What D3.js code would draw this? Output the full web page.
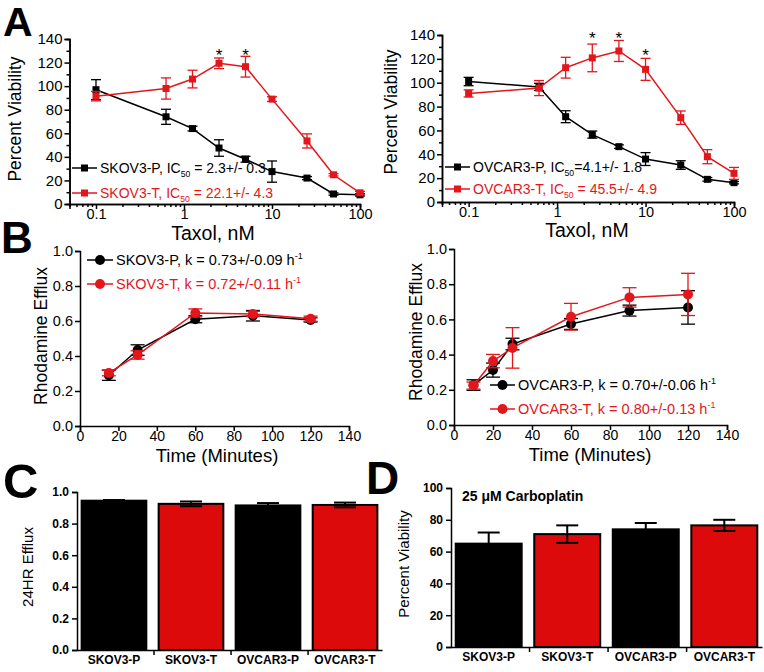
<!DOCTYPE html>
<html>
<head>
<meta charset="utf-8">
<script src="https://cdn.jsdelivr.net/npm/d3@7"></script>
<style>
  body { margin: 0; background: #fff; }
  svg { display: block; font-family: Arial, "Liberation Sans", sans-serif; }
</style>
</head>
<body>
<svg width="764" height="672"></svg>
<script>
const svg = d3.select("svg");
const RED = "#e3161c";
const BAR_RED = "#dc0a0a";

// ---- panel A: taxol dose response ----
const taxolConc = [0.1, 0.625, 1.25, 2.5, 5, 10, 25, 50, 100];
const skovPViab = [97, 74, 64, 47.5, 38, 27.5, 22, 8.5, 7.8];
const skovPErr  = [8.5, 6.4, 2, 7, 2.5, 9, 1.3, 1, 1];
const skovTViab = [91.5, 98, 106, 119.4, 116.5, 89, 53.5, 24.8, 9.5];
const skovTErr  = [4, 9, 7.5, 4.5, 8.8, 2, 6, 1, 1.2];
const ovcarPViab = [101, 96.5, 71.5, 56.5, 46.4, 36, 31, 19, 16.2];
const ovcarPErr  = [3.5, 3, 5, 3, 1.5, 5.4, 3.6, 1.5, 1];
const ovcarTViab = [91, 95.5, 112.6, 120.8, 126.6, 111.2, 70.7, 38, 24];
const ovcarTErr  = [3, 6.3, 8.7, 11.6, 8.8, 9.2, 5.6, 5.9, 5];
const skovStars = [[2.5, 129], [5, 129]];
const ovcarStars = [[2.5, 140], [5, 140], [10, 125.5]];

// ---- panel B: rhodamine efflux ----
const skovTime = [15, 30, 60, 90, 120];
const skovPEfflux = [0.29, 0.434, 0.61, 0.63, 0.606];
const skovPEffErr = [0.029, 0.03, 0.02, 0.03, 0.012];
const skovTEfflux = [0.303, 0.406, 0.646, 0.64, 0.613];
const skovTEffErr = [0.016, 0.024, 0.023, 0.015, 0.015];
const ovcarTime = [10, 20, 30, 60, 90, 120];
const ovcarPEfflux = [0.227, 0.312, 0.46, 0.574, 0.65, 0.668];
const ovcarPEffErr = [0.03, 0.04, 0.033, 0.031, 0.031, 0.095];
const ovcarTEfflux = [0.224, 0.363, 0.438, 0.615, 0.725, 0.742];
const ovcarTEffErr = [0.02, 0.038, 0.115, 0.076, 0.055, 0.12];

// ---- panels C and D: bars ----
const cellLines = ["SKOV3-P", "SKOV3-T", "OVCAR3-P", "OVCAR3-T"];
const efflux24 = [0.945, 0.925, 0.915, 0.918];
const efflux24Err = [0.004, 0.015, 0.015, 0.015];
const carboViab = [65, 71, 74, 76.5];
const carboErr = [7, 5.5, 4, 3.5];

const zip = (xs, ys, es) => xs.map((x, i) => ({x: x, y: ys[i], e: es[i]}));

function styleAxis(g, size, weight) {
  g.attr("font-family", null);
  g.selectAll("path, line").attr("stroke", "#000").attr("stroke-width", 1.5);
  g.selectAll("text").attr("font-size", size).attr("font-weight", weight || "normal").attr("fill", "#000");
}

function panelLetter(t, x, y, size) {
  svg.append("text").attr("x", x).attr("y", y).attr("font-size", size)
    .attr("font-weight", "bold").text(t);
}

function drawSeries(g, xs, ys, data, color, marker, cap) {
  const line = d3.line().x(d => xs(d.x)).y(d => ys(d.y));
  g.append("path").datum(data).attr("d", line).attr("fill", "none")
    .attr("stroke", color).attr("stroke-width", 1.5);
  const eb = g.selectAll(null).data(data).enter().append("g").attr("stroke", color).attr("stroke-width", 1.3);
  eb.append("line").attr("x1", d => xs(d.x)).attr("x2", d => xs(d.x))
    .attr("y1", d => ys(d.y - d.e)).attr("y2", d => ys(d.y + d.e));
  eb.append("line").attr("x1", d => xs(d.x) - cap).attr("x2", d => xs(d.x) + cap)
    .attr("y1", d => ys(d.y + d.e)).attr("y2", d => ys(d.y + d.e));
  eb.append("line").attr("x1", d => xs(d.x) - cap).attr("x2", d => xs(d.x) + cap)
    .attr("y1", d => ys(d.y - d.e)).attr("y2", d => ys(d.y - d.e));
  if (marker == "square") {
    g.selectAll(null).data(data).enter().append("rect")
      .attr("x", d => xs(d.x) - 3.5).attr("y", d => ys(d.y) - 3.5)
      .attr("width", 7).attr("height", 7).attr("fill", color);
  } else {
    g.selectAll(null).data(data).enter().append("circle")
      .attr("cx", d => xs(d.x)).attr("cy", d => ys(d.y)).attr("r", 5).attr("fill", color);
  }
}

function legendRow(x0, x1, y, color, marker, parts, fs) {
  svg.append("line").attr("x1", x0).attr("x2", x1).attr("y1", y).attr("y2", y)
    .attr("stroke", color).attr("stroke-width", 1.5);
  const mx = (x0 + x1) / 2;
  if (marker == "square") {
    svg.append("rect").attr("x", mx - 3.5).attr("y", y - 3.5).attr("width", 7).attr("height", 7).attr("fill", color);
  } else {
    svg.append("circle").attr("cx", mx).attr("cy", y).attr("r", 5).attr("fill", color);
  }
  const t = svg.append("text").attr("x", x1 + 3).attr("y", y + fs * 0.36)
    .attr("font-size", fs).attr("fill", color);
  parts.forEach(p => {
    const s = t.append("tspan").text(p.t);
    if (p.sub) s.attr("font-size", fs * 0.62).attr("dy", 4);
    if (p.sup) s.attr("font-size", fs * 0.62).attr("dy", -6);
    if (p.reset) s.attr("dy", p.reset);
  });
}

// ---------- Panel A ----------
function viabilityPanel(o) {
  const x = d3.scaleLog().domain([0.05, 100]).range(o.xr);
  const y = d3.scaleLinear().domain([0, 140]).range(o.yr);
  const g = svg.append("g");

  const majors = [0.1, 1, 10, 100];
  const minors = [];
  [0.01, 0.1, 1, 10].forEach(dec => d3.range(2, 10).forEach(k => {
    const v = dec * k;
    if (v >= 0.05 && v <= 100) minors.push(v);
  }));
  g.append("g").attr("transform", `translate(0,${o.yr[0]})`)
    .call(d3.axisBottom(x).tickValues(minors).tickSize(3).tickFormat(""))
    .call(a => styleAxis(a, 15));
  g.append("g").attr("transform", `translate(0,${o.yr[0]})`)
    .call(d3.axisBottom(x).tickValues(majors).tickSize(5).tickPadding(0).tickFormat(d3.format("")))
    .call(a => styleAxis(a, 14.5));

  g.append("g").attr("transform", `translate(${o.xr[0]},0)`)
    .call(d3.axisLeft(y).tickValues(d3.range(10, 140, 20)).tickSize(3).tickFormat(""))
    .call(a => styleAxis(a, 15));
  g.append("g").attr("transform", `translate(${o.xr[0]},0)`)
    .call(d3.axisLeft(y).tickValues(d3.range(0, 141, 20)).tickSize(5).tickPadding(2))
    .call(a => styleAxis(a, 15));

  drawSeries(g, x, y, zip(taxolConc, o.pVals, o.pErr), "#000", "square", 5);
  drawSeries(g, x, y, zip(taxolConc, o.tVals, o.tErr), RED, "square", 5);

  g.selectAll(null).data(o.stars).enter().append("text")
    .attr("x", d => x(d[0])).attr("y", d => y(d[1]) + 9)
    .attr("text-anchor", "middle").attr("font-size", 17).text("*");

  svg.append("text").attr("transform", `translate(${o.ylab[0]},${o.ylab[1]}) rotate(-90)`)
    .attr("text-anchor", "middle").attr("font-size", 17.5).text("Percent Viability");
  svg.append("text").attr("x", o.xlab[0]).attr("y", o.xlab[1])
    .attr("text-anchor", "middle").attr("font-size", 19.5).text("Taxol, nM");

  legendRow(o.leg[0], o.leg[1], o.leg[2], "#000", "square",
    [{t: o.names[0] + ", IC"}, {t: "50", sub: true}, {t: o.ic[0], reset: -4}], 14);
  legendRow(o.leg[0], o.leg[1], o.leg[3], RED, "square",
    [{t: o.names[1] + ", IC"}, {t: "50", sub: true}, {t: o.ic[1], reset: -4}], 14);
}

viabilityPanel({
  xr: [69.5, 360], yr: [204, 39],
  pVals: skovPViab, pErr: skovPErr, tVals: skovTViab, tErr: skovTErr,
  stars: skovStars, ylab: [21, 119], xlab: [213, 240],
  leg: [72, 97, 168, 193], names: ["SKOV3-P", "SKOV3-T"],
  ic: [" = 2.3+/- 0.3", " = 22.1+/- 4.3"]
});
viabilityPanel({
  xr: [442, 734], yr: [202, 35],
  pVals: ovcarPViab, pErr: ovcarPErr, tVals: ovcarTViab, tErr: ovcarTErr,
  stars: ovcarStars, ylab: [397, 112], xlab: [587, 237],
  leg: [445, 470, 167, 189], names: ["OVCAR3-P", "OVCAR3-T"],
  ic: ["=4.1+/- 1.8", " = 45.5+/- 4.9"]
});

// ---------- Panel B ----------
function effluxPanel(o) {
  const x = d3.scaleLinear().domain([0, 140]).range(o.xr);
  const y = d3.scaleLinear().domain([0, 1]).range(o.yr);
  const g = svg.append("g");
  g.append("g").attr("transform", `translate(0,${o.yr[0]})`)
    .call(d3.axisBottom(x).tickValues(d3.range(0, 141, 20)).tickSize(5).tickPadding(0))
    .call(a => styleAxis(a, 14));
  g.append("g").attr("transform", `translate(${o.xr[0]},0)`)
    .call(d3.axisLeft(y).tickValues(d3.range(0, 1.01, 0.2)).tickSize(5).tickPadding(2).tickFormat(d3.format(".1f")))
    .call(a => styleAxis(a, 14.5));

  drawSeries(g, x, y, zip(o.time, o.pVals, o.pErr), "#000", "circle", 7);
  drawSeries(g, x, y, zip(o.time, o.tVals, o.tErr), RED, "circle", 7);

  svg.append("text").attr("transform", `translate(${o.ylab[0]},${o.ylab[1]}) rotate(-90)`)
    .attr("text-anchor", "middle").attr("font-size", 17.5).text("Rhodamine Efflux");
  svg.append("text").attr("x", o.xlab[0]).attr("y", o.xlab[1])
    .attr("text-anchor", "middle").attr("font-size", 18.5).text("Time (Minutes)");

  legendRow(o.leg[0], o.leg[1], o.leg[2], "#000", "circle",
    [{t: o.names[0] + ", k = " + o.k[0] + " h"}, {t: "-1", sup: true}], 14.5);
  legendRow(o.leg[0], o.leg[1], o.leg[3], RED, "circle",
    [{t: o.names[1] + ", k = " + o.k[1] + " h"}, {t: "-1", sup: true}], 14.5);
}

effluxPanel({
  xr: [80, 349], yr: [426, 251], time: skovTime,
  pVals: skovPEfflux, pErr: skovPEffErr, tVals: skovTEfflux, tErr: skovTEffErr,
  ylab: [47, 336], xlab: [217, 462], leg: [87, 113, 260, 284],
  names: ["SKOV3-P", "SKOV3-T"], k: ["0.73+/-0.09", "0.72+/-0.11"]
});
effluxPanel({
  xr: [454, 727], yr: [425, 249], time: ovcarTime,
  pVals: ovcarPEfflux, pErr: ovcarPEffErr, tVals: ovcarTEfflux, tErr: ovcarTEffErr,
  ylab: [422, 332], xlab: [590, 461], leg: [490, 515, 385, 409],
  names: ["OVCAR3-P", "OVCAR3-T"], k: ["0.70+/-0.06", "0.80+/-0.13"]
});

// ---------- Panels C, D ----------
function barPanel(o) {
  const x = d3.scaleBand().domain(cellLines).range(o.xr).paddingInner(0.16).paddingOuter(0.06);
  const y = d3.scaleLinear().domain([0, o.max]).range(o.yr);
  const g = svg.append("g");
  const data = cellLines.map((c, i) => ({c: c, v: o.vals[i], e: o.err[i], i: i}));

  g.selectAll(null).data(data).enter().append("rect")
    .attr("x", d => x(d.c)).attr("y", d => y(d.v))
    .attr("width", x.bandwidth()).attr("height", d => y(0) - y(d.v))
    .attr("fill", d => d.i % 2 ? BAR_RED : "#000")
    .attr("stroke", "#000").attr("stroke-width", 2);

  const eb = g.selectAll(null).data(data).enter().append("g").attr("stroke", "#000").attr("stroke-width", 2);
  const cx = d => x(d.c) + x.bandwidth() / 2;
  eb.append("line").attr("x1", cx).attr("x2", cx).attr("y1", d => y(d.v - d.e)).attr("y2", d => y(d.v + d.e));
  eb.append("line").attr("x1", d => cx(d) - 11).attr("x2", d => cx(d) + 11)
    .attr("y1", d => y(d.v + d.e)).attr("y2", d => y(d.v + d.e));
  eb.append("line").attr("x1", d => cx(d) - 11).attr("x2", d => cx(d) + 11)
    .attr("y1", d => y(d.v - d.e)).attr("y2", d => y(d.v - d.e));

  // x axis: labels under bars, ticks between categories
  g.append("g").attr("transform", `translate(0,${o.yr[0]})`)
    .call(d3.axisBottom(x).tickSize(0).tickPadding(5).tickSizeOuter(0))
    .call(a => styleAxis(a, 12, "bold"));
  const step = x.step();
  g.selectAll(null).data(d3.range(1, cellLines.length)).enter().append("line")
    .attr("x1", k => o.xr[0] + k * step).attr("x2", k => o.xr[0] + k * step)
    .attr("y1", o.yr[0]).attr("y2", o.yr[0] + 5)
    .attr("stroke", "#000").attr("stroke-width", 1.5);

  g.append("g").attr("transform", `translate(${o.xr[0]},0)`)
    .call(d3.axisLeft(y).tickValues(o.ticks).tickSize(5).tickPadding(3).tickFormat(o.fmt))
    .call(a => styleAxis(a, 12, "bold"));

  svg.append("text").attr("transform", `translate(${o.ylab[0]},${o.ylab[1]}) rotate(-90)`)
    .attr("text-anchor", "middle").attr("font-size", 15).text(o.ytitle);
}

barPanel({
  xr: [77, 382], yr: [650, 492], max: 1, vals: efflux24, err: efflux24Err,
  ticks: d3.range(0, 1.01, 0.2), fmt: d3.format(".1f"), ylab: [33, 567], ytitle: "24HR Efflux"
});
barPanel({
  xr: [451, 762], yr: [647, 488], max: 100, vals: carboViab, err: carboErr,
  ticks: d3.range(0, 101, 20), fmt: d3.format("d"), ylab: [409, 564], ytitle: "Percent Viability"
});
svg.append("text").attr("x", 462).attr("y", 501).attr("font-size", 14).attr("font-weight", "bold")
  .text("25 \u03bcM Carboplatin");

panelLetter("A", 3, 36, 41);
panelLetter("B", 1, 253, 44);
panelLetter("C", 3, 498, 49);
panelLetter("D", 366, 494, 46);
</script>
</body>
</html>
